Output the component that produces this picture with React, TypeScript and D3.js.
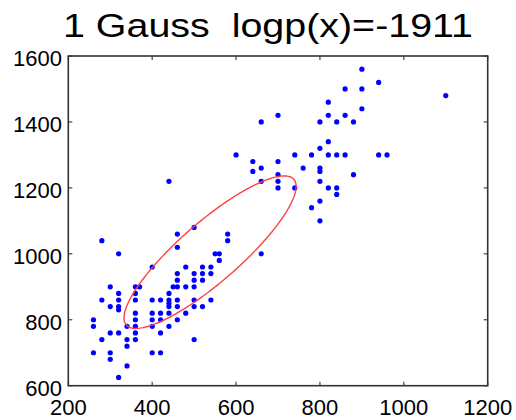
import React from "react";
import * as d3 from "d3";

const title = "1 Gauss  logp(x)=-1911";
const xTicks = [200, 400, 600, 800, 1000, 1200];
const yTicks = [600, 800, 1000, 1200, 1400, 1600];

const dataX = [
  700, 660, 600, 640, 700, 640, 660, 700, 440, 660, 700, 700,
  900, 940, 860, 900, 1100, 820, 820, 860, 900, 800, 840, 880, 820, 800, 740, 780, 820, 840, 860, 940, 960,
  760, 800, 800, 880, 740, 800, 820, 840, 840, 800, 780, 800,
  500, 460, 580, 580, 280, 460, 320, 660, 550, 560, 560, 400, 480, 520, 540, 460, 500, 520, 540,
  460, 500, 520, 300, 360, 370, 450, 460, 480, 500, 320, 360, 440, 280, 320, 360, 400, 420, 440, 460, 500, 540,
  300, 320, 320, 440, 440, 460, 500, 520, 360, 400, 420, 440, 480, 260, 360, 400, 420, 460,
  260, 340, 360, 400, 440, 300, 320, 360, 420, 280, 340, 360, 500, 340, 260, 300, 400, 420, 300, 340, 320,
];
const dataY = [
  1420, 1400, 1300, 1280, 1280, 1250, 1260, 1240, 1220, 1220, 1220, 1200,
  1560, 1520, 1500, 1500, 1480, 1460, 1420, 1420, 1440, 1400, 1400, 1400, 1340, 1320, 1300, 1300, 1300, 1300, 1300, 1300, 1300,
  1260, 1260, 1250, 1240, 1200, 1220, 1200, 1200, 1180, 1160, 1140, 1100,
  1080, 1060, 1060, 1040, 1040, 1020, 1000, 1000, 1000, 1000, 980, 960, 960, 960, 960, 940, 940, 940, 940,
  920, 920, 920, 900, 900, 900, 900, 900, 900, 900, 880, 880, 880, 860, 860, 860, 860, 860, 860, 860, 860, 860,
  840, 840, 830, 850, 840, 840, 840, 840, 820, 820, 820, 820, 820, 800, 800, 800, 800, 800,
  780, 780, 780, 780, 780, 760, 760, 760, 760, 740, 740, 740, 740, 720, 700, 700, 700, 700, 680, 660, 625,
];

// fitted Gaussian (mean and covariance), 1-sigma contour
const gaussMean = [538, 1005];
const gaussCov = [
  [42100, 40900],
  [40900, 53500],
];

const W = 516;
const H = 420;
const left = 68.3;
const right = 487.7;
const top = 56;
const bottom = 385.7;

export default function App() {
  const x = d3.scaleLinear().domain([200, 1200]).range([left, right]);
  const y = d3.scaleLinear().domain([600, 1600]).range([bottom, top]);

  // ellipse from covariance eigen-decomposition
  const a = gaussCov[0][0];
  const b = gaussCov[0][1];
  const c = gaussCov[1][1];
  const tr = a + c;
  const det = a * c - b * b;
  const l1 = tr / 2 + Math.sqrt((tr * tr) / 4 - det);
  const l2 = tr / 2 - Math.sqrt((tr * tr) / 4 - det);
  const theta = Math.atan2(l1 - a, b);
  const pts: [number, number][] = d3.range(0, 201).map((i) => {
    const t = (i / 200) * 2 * Math.PI;
    const u = Math.sqrt(l1) * Math.cos(t);
    const v = Math.sqrt(l2) * Math.sin(t);
    const dx = u * Math.cos(theta) - v * Math.sin(theta);
    const dy = u * Math.sin(theta) + v * Math.cos(theta);
    return [x(gaussMean[0] + dx), y(gaussMean[1] + dy)];
  });
  const ellipsePath = d3.line()(pts) + "Z";

  const font = "'Liberation Sans', Arial, Helvetica, sans-serif";
  const tickLen = 4;

  return (
    <svg
      width={W}
      height={H}
      style={{ position: "absolute", left: 0, top: 0, background: "#fff" }}
      fontFamily={font}
    >
      <rect x={0} y={0} width={W} height={H} fill="#fff" />
      <text x={63} y={37} fontSize={34} fill="#000" textLength={410} lengthAdjust="spacingAndGlyphs" xmlSpace="preserve">
        {title}
      </text>
      {/* ticks */}
      {xTicks.map((t) => (
        <g key={"xt" + t}>
          <line x1={x(t)} x2={x(t)} y1={bottom} y2={bottom - tickLen} stroke="#444" strokeWidth={1.2} />
          <line x1={x(t)} x2={x(t)} y1={top} y2={top + tickLen} stroke="#444" strokeWidth={1.2} />
          <text x={x(t)} y={415} fontSize={22} textAnchor="middle" fill="#000">
            {t}
          </text>
        </g>
      ))}
      {yTicks.map((t) => (
        <g key={"yt" + t}>
          <line x1={left} x2={left + tickLen} y1={y(t)} y2={y(t)} stroke="#444" strokeWidth={1.2} />
          <line x1={right} x2={right - tickLen} y1={y(t)} y2={y(t)} stroke="#444" strokeWidth={1.2} />
          <text x={62} y={y(t) + 10} fontSize={22} textAnchor="end" fill="#000">
            {t}
          </text>
        </g>
      ))}
      <rect x={left} y={top} width={right - left} height={bottom - top} fill="none" stroke="#333" strokeWidth={1.6} />
      {dataX.map((v, i) => (
        <circle key={"p" + i} cx={x(v)} cy={y(dataY[i])} r={2.6} fill="#0000ff" />
      ))}
      <path d={ellipsePath} fill="none" stroke="#ff4040" strokeWidth={1.4} />
    </svg>
  );
}
